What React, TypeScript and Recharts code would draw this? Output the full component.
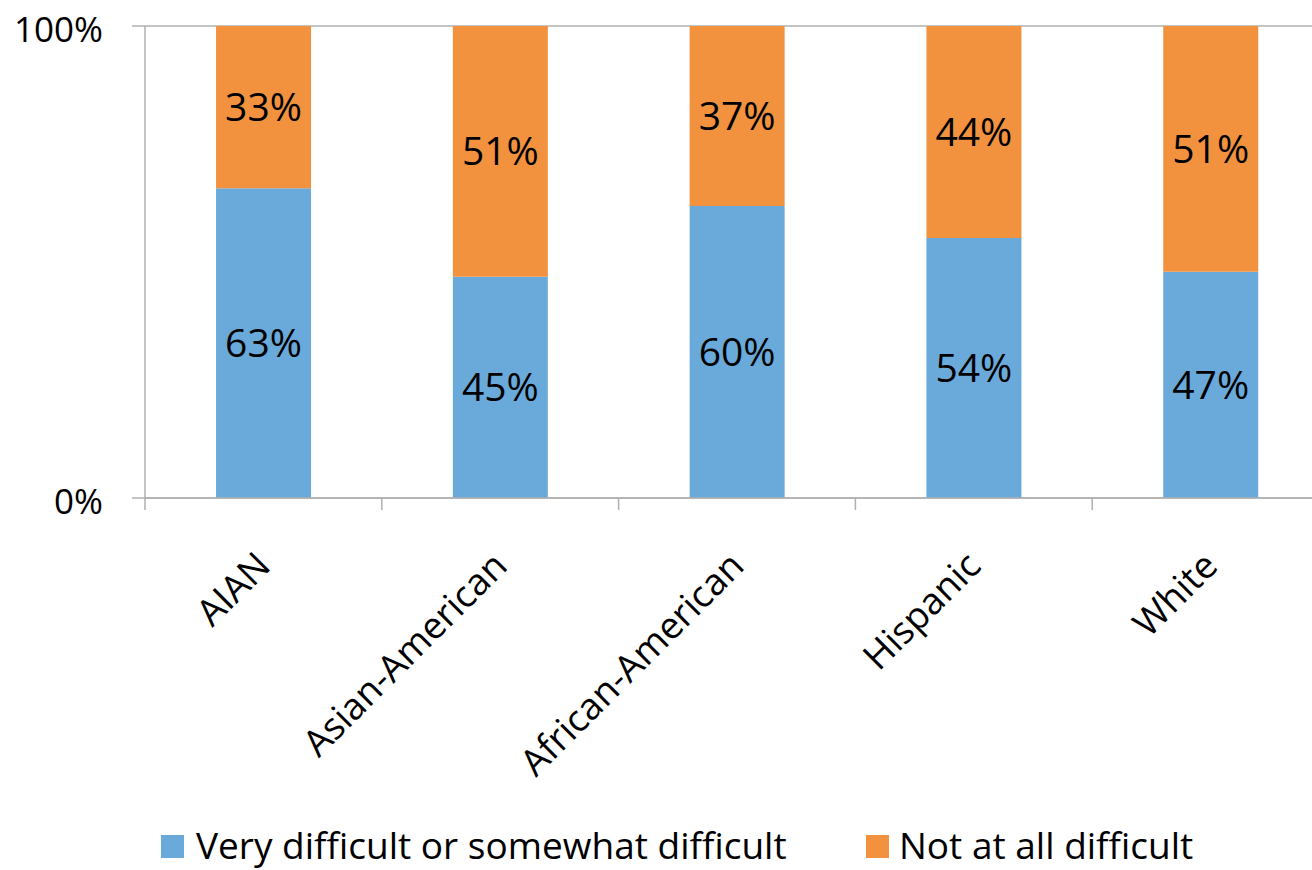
import React from 'react';
import { BarChart, Bar, XAxis, YAxis, CartesianGrid, LabelList } from 'recharts';

const categories = ['AIAN', 'Asian-American', 'African-American', 'Hispanic', 'White'];
const difficultValues = [63, 45, 60, 54, 47];
const notDifficultValues = [33, 51, 37, 44, 51];
const yTicks = [0, 1];
const seriesNames = ['Very difficult or somewhat difficult', 'Not at all difficult'];

const BLUE = '#6aaadb';
const ORANGE = '#f2923f';
const GRID = '#b0b0b0';
const FONT = '"Open Sans", sans-serif';

const data = categories.map((c, i) => ({
  name: c,
  difficult: difficultValues[i],
  notDifficult: notDifficultValues[i],
}));

const CategoryTick = (props: any) => {
  const { x, y, payload } = props;
  const half = payload && payload.offset ? payload.offset : 118.4;
  const ax = x + 9;
  const ay = y + 70;
  return (
    <g>
      <line x1={x - half} x2={x - half} y1={y} y2={y + 12} stroke={GRID} strokeWidth={1.5} />
      <text
        x={ax}
        y={ay}
        transform={`rotate(-45, ${ax}, ${ay})`}
        textAnchor="end"
        fontSize={37}
        fill="#000"
        fontFamily={FONT}
      >
        {payload.value}
      </text>
    </g>
  );
};

const YTick = (props: any) => {
  const { x, y, payload } = props;
  return (
    <text x={x} y={y + 4} dy="0.355em" textAnchor="end" fontSize={35} fill="#000" fontFamily={FONT}>
      {`${Math.round(payload.value * 100)}%`}
    </text>
  );
};

const pct = (v: any) => `${v}%`;

export default function App() {
  return (
    <div
      style={{
        position: 'absolute',
        left: 0,
        top: 0,
        width: 1312,
        height: 870,
        overflow: 'hidden',
        background: '#fff',
        fontFamily: FONT,
      }}
    >
      <BarChart
        width={1340}
        height={870}
        data={data}
        stackOffset="expand"
        barCategoryGap="30%"
        margin={{ top: 26, right: 11, left: 0, bottom: 72 }}
      >
        <CartesianGrid horizontal={true} vertical={false} stroke={GRID} strokeWidth={1.5} />
        <XAxis
          dataKey="name"
          height={300}
          interval={0}
          tickSize={0}
          tickMargin={0}
          tickLine={false}
          axisLine={{ stroke: GRID, strokeWidth: 1.5 }}
          tick={<CategoryTick />}
        />
        <YAxis
          width={145}
          domain={[0, 1]}
          ticks={yTicks}
          tickSize={13}
          tickMargin={29}
          tickLine={{ stroke: GRID, strokeWidth: 1.5 }}
          axisLine={{ stroke: GRID, strokeWidth: 1.5 }}
          tick={<YTick />}
        />
        <Bar dataKey="difficult" stackId="a" fill={BLUE} isAnimationActive={false}>
          <LabelList dataKey="difficult" position="center" formatter={pct} fill="#000" fontSize={39} fontFamily={FONT} />
        </Bar>
        <Bar dataKey="notDifficult" stackId="a" fill={ORANGE} isAnimationActive={false}>
          <LabelList dataKey="notDifficult" position="center" formatter={pct} fill="#000" fontSize={39} fontFamily={FONT} />
        </Bar>
      </BarChart>
      <div style={{ position: 'absolute', left: 161, top: 835, width: 23, height: 23, background: BLUE }} />
      <div style={{ position: 'absolute', left: 196, top: 826, fontSize: 37, lineHeight: '37px', whiteSpace: 'nowrap', color: '#000' }}>
        {seriesNames[0]}
      </div>
      <div style={{ position: 'absolute', left: 866, top: 835, width: 23, height: 23, background: ORANGE }} />
      <div style={{ position: 'absolute', left: 899, top: 826, fontSize: 37, lineHeight: '37px', whiteSpace: 'nowrap', color: '#000' }}>
        {seriesNames[1]}
      </div>
    </div>
  );
}
